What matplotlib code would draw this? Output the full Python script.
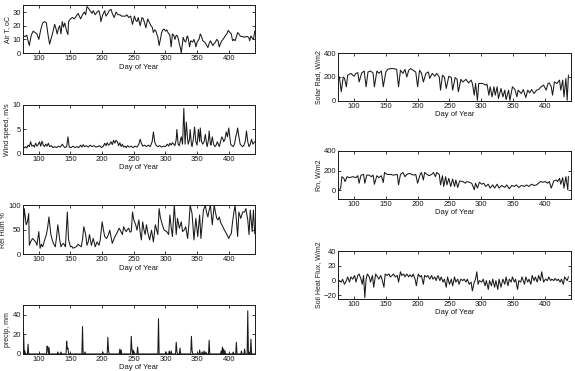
import numpy as np
import matplotlib
matplotlib.use('Agg')
import matplotlib.pyplot as plt

plt.rcParams['font.family'] = ['Liberation Sans', 'DejaVu Sans']

# ---- data (day of year, value) ----
airt_day = [75, 78, 81, 83, 85, 88, 91, 94, 97, 100, 103, 106, 109, 112, 114, 117, 119, 122, 125, 127,
            129, 131, 133, 135, 137, 139, 141, 144, 146, 147, 150, 153, 156, 159, 162, 164, 166, 169, 172, 174,
            176, 178, 181, 184, 186, 189, 192, 195, 197, 198, 201, 204, 206, 209, 211, 214, 216, 219, 222, 225,
            228, 231, 234, 237, 239, 242, 245, 247, 248, 251, 253, 255, 257, 260, 263, 265, 267, 269, 272, 274,
            277, 279, 281, 283, 285, 288, 290, 292, 294, 296, 298, 300, 302, 304, 307, 309, 311, 313, 315, 317,
            319, 321, 322, 324, 325, 327, 328, 330, 332, 334, 335, 337, 338, 340, 343, 345, 347, 348, 350, 353,
            355, 357, 359, 362, 364, 366, 367, 369, 371, 373, 375, 377, 379, 381, 383, 385, 387, 389, 391, 393,
            395, 397, 399, 400, 402, 404, 406, 408, 410, 412, 414, 416, 418, 420, 423, 425, 427, 430, 432, 433,
            435, 437, 439, 441]
airt = [13, 12, 13, 9, 5.5, 13, 16, 15, 14, 10, 17, 22, 23, 22, 15, 6.5, 10, 15, 21, 18,
        14, 18, 20, 14, 23, 19, 22, 16, 13.5, 23, 25, 26, 25, 27, 29, 27, 25, 28, 30, 28,
        34, 33, 31, 29, 31, 28, 30, 31, 27, 23, 28, 31, 27, 29, 31, 32, 29, 26, 30, 28,
        28, 27, 27, 27, 28, 26, 27, 23, 21, 27, 24, 23, 26, 20, 26, 25, 22, 18.5, 25, 23,
        20, 19, 15, 17, 16, 11.5, 5.5, 10, 15, 17, 17.5, 16, 17, 15, 13, 4.5, 14, 13, 10, 13,
        12.5, 9, 6.5, 3, 0, 8, 11.5, 9, 8, 12, 12.5, 8, 4.5, 9, 8, 10, 7, 4.5, 8, 10,
        14, 12, 9, 8, 6.5, 5, 4, 7, 9, 7, 5.5, 7, 8, 10, 9, 4.5, 7, 9, 10, 11.5,
        13, 14, 16.5, 16, 15, 14, 9, 10, 9, 12, 15, 14, 12.5, 12, 12, 11.5, 12, 12, 11, 9,
        12.5, 11, 10, 16]

wind_day = [75, 77, 79, 81, 83, 85, 87, 89, 91, 93, 95, 97, 99, 101, 103, 105, 107, 109, 111, 113,
            115, 117, 120, 122, 125, 128, 131, 134, 137, 139, 141, 144, 146, 148, 151, 154, 157, 160, 163, 166,
            168, 170, 172, 175, 178, 181, 184, 187, 190, 193, 196, 199, 202, 204, 206, 208, 210, 212, 214, 216,
            218, 220, 222, 224, 226, 228, 230, 232, 234, 236, 238, 240, 243, 246, 249, 252, 255, 258, 260, 262,
            264, 267, 270, 273, 276, 279, 281, 283, 285, 288, 291, 294, 297, 300, 303, 305, 307, 309, 311, 313,
            315, 317, 318, 320, 322, 324, 325, 327, 329, 331, 333, 335, 336, 338, 339, 341, 342, 344, 346, 348,
            350, 352, 354, 355, 357, 359, 361, 363, 365, 366, 368, 369, 371, 372, 374, 376, 378, 380, 382, 384,
            385, 387, 389, 391, 392, 394, 396, 398, 400, 402, 403, 405, 407, 409, 411, 413, 414, 416, 418, 420,
            422, 424, 426, 428, 430, 432, 434, 436, 438, 441]
wind = [1.0, 1.3, 1.5, 1.2, 1.8, 1.5, 2.5, 1.6, 1.8, 1.4, 2.2, 1.6, 1.9, 2.5, 1.6, 2.6, 1.8, 1.5, 2.0, 1.6,
        2.2, 1.5, 1.7, 1.3, 1.5, 1.3, 1.6, 1.4, 2.0, 1.6, 1.3, 1.5, 3.5, 1.4, 1.3, 1.6, 1.3, 1.5, 1.3, 1.8,
        1.4, 1.9, 1.5, 1.7, 1.4, 1.8, 1.5, 1.7, 1.4, 1.5, 1.7, 1.3, 1.6, 2.2, 1.7, 2.3, 1.8, 2.0, 2.5, 1.9,
        2.8, 2.2, 2.8, 2.5, 1.7, 2.3, 1.5, 2.0, 1.4, 1.6, 1.3, 1.7, 1.4, 1.6, 1.3, 1.6, 1.4, 2.0, 3.0, 2.2,
        1.6, 1.8, 1.5, 1.8, 1.5, 2.5, 4.5, 2.5, 1.8, 1.5, 1.7, 1.4, 1.6, 1.5, 2.0, 1.6, 2.2, 1.8, 2.3, 2.0,
        1.7, 3.0, 5.0, 2.0, 1.7, 3.0, 3.5, 2.0, 9.3, 2.0, 6.5, 3.0, 2.0, 3.0, 5.0, 2.0, 1.5, 3.0, 5.5, 2.5,
        1.8, 5.0, 2.5, 5.3, 2.5, 2.0, 2.5, 4.0, 2.0, 1.5, 3.0, 4.7, 2.0, 1.8, 3.5, 2.0, 1.5, 1.8, 2.5, 1.8,
        1.5, 2.5, 3.5, 3.0, 2.5, 3.0, 4.5, 3.5, 5.3, 3.0, 2.0, 1.7, 1.5, 2.0, 3.5, 4.5, 5.3, 3.5, 2.0, 1.7,
        1.5, 1.8, 2.5, 4.7, 2.5, 1.5, 2.0, 3.0, 2.0, 2.5]

rh_day = [75, 77, 80, 82, 84, 85, 87, 90, 93, 95, 97, 100, 102, 104, 106, 109, 112, 114, 116, 119,
          121, 123, 126, 128, 130, 133, 135, 137, 139, 142, 145, 147, 150, 152, 154, 157, 159, 162, 164, 167,
          169, 171, 174, 176, 178, 180, 183, 186, 189, 192, 195, 197, 200, 202, 204, 207, 210, 212, 214, 216,
          219, 221, 223, 225, 227, 230, 232, 234, 236, 238, 240, 242, 244, 246, 248, 250, 253, 255, 258, 260,
          262, 264, 266, 268, 270, 272, 275, 278, 281, 284, 286, 288, 290, 292, 295, 298, 302, 305, 307, 309,
          311, 314, 317, 319, 322, 325, 327, 330, 332, 335, 337, 339, 342, 345, 348, 351, 354, 356, 358, 360,
          363, 365, 367, 369, 371, 374, 377, 379, 381, 383, 385, 387, 389, 391, 393, 395, 397, 400, 402, 404,
          406, 408, 410, 412, 414, 416, 419, 422, 425, 427, 430, 432, 434, 437, 439, 441]
rh = [40, 93, 60, 66, 83, 18, 25, 32, 28, 25, 18, 46, 12, 20, 15, 28, 40, 55, 76, 40,
      30, 22, 15, 35, 60, 29, 15, 20, 22, 15, 86, 29, 15, 16, 12, 14, 15, 20, 18, 15,
      30, 56, 40, 18, 25, 40, 18, 32, 15, 25, 18, 29, 66, 50, 36, 32, 40, 49, 35, 22,
      32, 38, 42, 48, 53, 45, 40, 56, 50, 46, 50, 53, 45, 46, 86, 70, 60, 49, 70, 45,
      29, 66, 50, 40, 60, 45, 29, 49, 25, 60, 50, 40, 93, 75, 60, 49, 46, 40, 80, 55,
      36, 100, 40, 73, 53, 66, 46, 50, 56, 32, 60, 100, 83, 29, 73, 36, 80, 32, 60, 90,
      100, 85, 76, 90, 100, 60, 100, 85, 73, 70, 76, 65, 60, 55, 49, 45, 40, 32, 38, 42,
      66, 85, 100, 70, 36, 86, 73, 86, 86, 93, 70, 40, 90, 46, 90, 42]

rain_day = [76, 78, 83, 113, 114, 116, 130, 135, 144, 145, 146, 169, 173, 201, 209, 210, 228, 230, 246, 247,
            249, 256, 289, 301, 306, 309, 317, 318, 323, 341, 342, 354, 358, 361, 364, 369, 388, 390, 392, 394,
            407, 412, 420, 425, 430, 432, 435]
rain = [21, 3, 10, 8, 6, 7, 2, 2, 13, 5, 6, 28, 2, 2, 17, 4, 5, 4, 18, 5,
        4, 7, 36, 2, 3, 3, 12, 3, 6, 18, 4, 4, 2, 3, 2, 14, 3, 7, 5, 3,
        2, 12, 3, 5, 44, 2, 15]

solar_day = [77, 80, 83, 85, 88, 90, 95, 100, 103, 106, 108, 112, 116, 119, 122, 126, 130, 132, 136, 139,
             143, 146, 150, 153, 157, 162, 167, 170, 173, 177, 180, 183, 186, 189, 193, 197, 200, 203, 206, 209,
             213, 217, 219, 223, 227, 230, 234, 236, 239, 242, 245, 249, 253, 255, 259, 262, 264, 268, 271, 276,
             280, 284, 286, 289, 291, 294, 296, 302, 307, 309, 312, 314, 317, 320, 322, 325, 327, 331, 334, 337,
             339, 343, 345, 349, 353, 356, 358, 363, 366, 370, 373, 376, 379, 383, 387, 390, 394, 398, 402, 405,
             407, 410, 412, 415, 419, 423, 425, 428, 430, 433, 435, 437]
solar = [200, 76, 200, 190, 118, 215, 230, 206, 230, 236, 158, 233, 250, 118, 242, 250, 233, 118, 250, 230,
         250, 118, 242, 264, 270, 270, 264, 118, 256, 230, 264, 200, 256, 270, 256, 242, 118, 256, 233, 158,
         230, 242, 188, 230, 206, 230, 200, 90, 215, 200, 104, 206, 195, 90, 195, 180, 76, 180, 158, 180,
         150, 174, 146, 48, 146, 5, 146, 146, 132, 140, 48, 118, 34, 118, 48, 118, 20, 104, 34, 90,
         11, 90, 5, 118, 95, 34, 90, 62, 95, 28, 90, 67, 95, 62, 90, 95, 118, 132, 90, 146,
         150, 118, 48, 158, 146, 174, 90, 174, 34, 188, 5, 215]

rn_day = [77, 79, 81, 84, 86, 89, 93, 98, 103, 106, 108, 111, 115, 117, 120, 124, 127, 130, 132, 136,
          139, 143, 146, 148, 152, 157, 162, 168, 170, 173, 177, 180, 183, 187, 191, 194, 197, 200, 204, 206,
          209, 211, 215, 218, 222, 225, 228, 230, 234, 236, 239, 241, 244, 246, 249, 252, 255, 258, 260, 263,
          266, 271, 275, 277, 281, 285, 289, 291, 294, 297, 301, 304, 307, 311, 314, 318, 321, 325, 328, 332,
          337, 340, 344, 348, 352, 355, 359, 363, 368, 371, 375, 379, 383, 387, 390, 393, 397, 401, 404, 407,
          410, 414, 418, 420, 423, 425, 428, 430, 433, 436, 437]
rn = [0, 20, 137, 120, 87, 137, 127, 137, 127, 147, 70, 153, 160, 70, 153, 153, 137, 153, 60, 147,
      127, 147, 77, 180, 160, 160, 153, 160, 53, 160, 180, 137, 160, 170, 160, 153, 160, 70, 160, 180,
      103, 180, 160, 147, 160, 180, 137, 180, 160, 53, 147, 37, 137, 53, 120, 37, 113, 37, 103, 27,
      93, 87, 70, 87, 80, 70, 3, 70, 20, 80, 60, 70, 37, 60, 20, 53, 20, 60, 20, 47,
      27, 53, 13, 47, 37, 53, 27, 47, 37, 53, 37, 60, 47, 53, 70, 87, 80, 87, 70, 87,
      20, 93, 103, 87, 120, 60, 127, 20, 137, 3, 137]

soil_day = [77, 80, 82, 85, 88, 90, 93, 95, 98, 101, 103, 106, 108, 111, 113, 115, 117, 119, 121, 124,
            126, 129, 131, 134, 137, 139, 142, 144, 147, 149, 152, 155, 157, 160, 162, 165, 168, 170, 173, 175,
            178, 180, 183, 186, 188, 191, 193, 196, 198, 201, 204, 206, 209, 211, 214, 216, 219, 222, 224, 227,
            229, 232, 235, 237, 240, 242, 245, 247, 250, 253, 255, 258, 260, 263, 265, 268, 271, 273, 276, 278,
            281, 284, 286, 289, 291, 293, 295, 297, 301, 303, 306, 308, 311, 313, 316, 318, 321, 323, 326, 328,
            331, 334, 337, 339, 342, 344, 347, 349, 352, 354, 357, 359, 362, 364, 368, 370, 373, 375, 378, 380,
            383, 385, 388, 390, 393, 395, 398, 401, 404, 406, 409, 411, 414, 416, 419, 421, 424, 426, 429, 431,
            435, 437]
soil = [0, -2, 2, -5, 0, 5, -2, 5, 2, 7, -2, 7, 9, 2, -5, 7, -23, 2, 9, 5,
        -2, 7, -9, 9, 5, 2, 7, 2, -9, 9, 7, 9, 5, 7, 9, 5, 7, -2, 12, 7,
        9, 5, 9, 5, 8, 5, 9, 2, -7, 9, 5, 7, -5, 7, 5, 7, 2, 7, 2, 5,
        0, 7, 0, 5, -2, 2, -9, 5, -5, 2, -7, 5, -2, 2, -5, 2, 0, 2, -2, 2,
        -5, -2, -14, -2, 2, 12, -5, 0, -2, 2, -7, 0, -12, 0, -7, 2, -9, 0, -12, 2,
        -9, 2, -5, 5, -7, 2, -2, 5, -2, 2, -12, 0, -2, 5, -5, 5, -2, 2, -5, 7,
        0, 5, -2, 7, 0, 12, -2, 2, 0, 5, 0, 2, 0, 3, 0, 2, -2, 2, -5, 5,
        0, 5]

# daily precip: zero on days with no rain
precip_days = np.arange(75, 442)
precip = np.zeros(len(precip_days))
precip[np.searchsorted(precip_days, rain_day)] = rain

ink = '#1a1a1a'
fig = plt.figure(figsize=(5.75, 3.71), dpi=100)

# (x, y, ylabel, ylim, yticks, axes rect)
panels = [
    (airt_day, airt, 'Air T, oC', (0, 35), [0, 10, 20, 30], [0.040, 0.857, 0.403, 0.129]),
    (wind_day, wind, 'Wind speed, m/s', (0, 10), [0, 5, 10], [0.040, 0.585, 0.403, 0.132]),
    (rh_day, rh, 'Rel Hum %', (0, 100), [0, 50, 100], [0.040, 0.315, 0.403, 0.132]),
    (precip_days, precip, 'precip, mm', (0, 50), [0, 20, 40], [0.040, 0.046, 0.403, 0.132]),
    (solar_day, solar, 'Solar Rad, W/m2', (0, 400), [0, 200, 400], [0.588, 0.728, 0.405, 0.129]),
    (rn_day, rn, 'Rn, W/m2', (-90, 400), [0, 200, 400], [0.588, 0.464, 0.405, 0.129]),
    (soil_day, soil, 'Soil Heat Flux, W/m2', (-25, 40), [-20, 0, 20, 40], [0.588, 0.194, 0.405, 0.129]),
]

for x, y, lab, ylim, yt, rect in panels:
    ax = fig.add_axes(rect)
    ax.plot(x, y, color=ink, lw=0.75)
    ax.set_xlim(75, 441)
    ax.set_ylim(*ylim)
    ax.set_xticks([100, 150, 200, 250, 300, 350, 400])
    ax.set_yticks(yt)
    ax.tick_params(direction='in', length=2.5, width=0.6, labelsize=5.5, pad=1.5,
                   top=True, right=True, colors=ink)
    for s in ax.spines.values():
        s.set_linewidth(0.7)
        s.set_color(ink)
    ax.set_xlabel('Day of Year', fontsize=5.5, labelpad=1, color=ink)
    ax.set_ylabel(lab, fontsize=5, labelpad=1, color=ink)

fig.savefig('out.png', dpi=100)
